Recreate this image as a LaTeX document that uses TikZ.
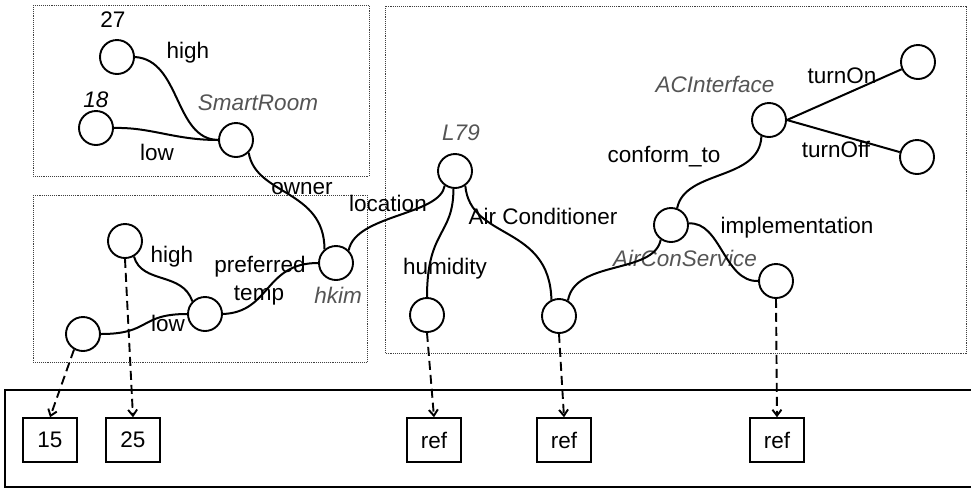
\documentclass[tikz,border=0pt]{standalone}
\usepackage{fontspec}
\setmainfont{Liberation Sans}
\usetikzlibrary{arrows.meta}
\definecolor{lblgray}{gray}{0.33}
\begin{document}
\begin{tikzpicture}[x=1pt,y=-1pt,
  nd/.style={circle,draw,line width=1.9pt,minimum size=34pt,inner sep=0pt},
  lbl/.style={font=\fontsize{22.5}{26}\selectfont,inner sep=0pt,text height=16pt,text depth=4.5pt},
  ilbl/.style={lbl,font=\fontsize{22.5}{26}\selectfont\itshape,text=lblgray},
  conn/.style={line width=2pt},
  valbox/.style={draw,line width=1.5pt,minimum width=54pt,minimum height=44pt,inner sep=0pt,font=\fontsize{22.5}{26}\selectfont},
  dotbox/.style={densely dotted,line width=0.9pt,draw=black!75},
  deparrow/.style={dash pattern=on 9pt off 5pt,line width=1.9pt,-{Straight Barb[length=6pt,width=9pt]}}
]
\useasboundingbox (0,0) rectangle (971,491);

% frames
\draw[dotbox] (33,5) rectangle (369,176);
\draw[dotbox] (33,195) rectangle (367,362);
\draw[dotbox] (385,6) rectangle (966,353);
\draw[line width=1.5pt] (971,390) -- (5,390) -- (5,487) -- (971,487);

% nodes
\node[nd] (c27) at (117,57) {};
\node[nd] (c18) at (96,128) {};
\node[nd] (smart) at (236,140) {};
\node[nd] (ctop) at (125,241) {};
\node[nd] (cmid) at (205,314) {};
\node[nd] (cbl) at (83,334) {};
\node[nd] (hkim) at (336,263) {};
\node[nd] (l79) at (455,171) {};
\node[nd] (hum) at (427,315) {};
\node[nd] (ac) at (559,316) {};
\node[nd] (acs) at (671,225) {};
\node[nd] (impl) at (776,281) {};
\node[nd] (aci) at (769,120) {};
\node[nd] (ton) at (918,62) {};
\node[nd] (toff) at (917,157) {};

% value boxes
\node[valbox] (v15) at (50,440) {15};
\node[valbox] (v25) at (133,440) {25};
\node[valbox] (r1) at (434,440) {ref};
\node[valbox] (r2) at (564,440) {ref};
\node[valbox] (r3) at (777,440) {ref};

% labels
\node[lbl] (t27) at (113,22) {27};
\node[lbl] (thigh1) at (188,53) {high};
\node[lbl,font=\fontsize{22.5}{26}\selectfont\itshape] (t18) at (96,102) {18};
\node[ilbl] (tsmart) at (258,105) {SmartRoom};
\node[lbl] (tlow1) at (157,155) {low};
\node[lbl] (towner) at (302,189) {owner};
\node[lbl] (thigh2) at (172,257) {high};
\node[lbl] (tlow2) at (168,326) {low};
\node[lbl] (tpref) at (260,267) {preferred};
\node[lbl] (ttemp) at (259,295) {temp};
\node[ilbl] (thkim) at (338,298) {hkim};
\node[lbl] (tloc) at (388,206) {location};
\node[ilbl] (tl79) at (461,135) {L79};
\node[lbl] (tair) at (543,219) {Air Conditioner};
\node[lbl] (thum) at (445,269) {humidity};
\node[ilbl] (tacs) at (685,261) {AirConService};
\node[lbl] (timpl) at (797,228) {implementation};
\node[lbl] (tconf) at (664,157) {conform\_to};
\node[ilbl] (taci) at (715,87) {ACInterface};
\node[lbl] (tonl) at (842,78) {turnOn};
\node[lbl] (toffl) at (836,152) {turnOff};

% connectors
\draw[conn] (c27.east) .. controls +(46,3) and +(-44,-1) .. (smart.west);
\draw[conn] (c18.east) .. controls +(37,-1) and +(-44,0) .. (smart.west);
\draw[conn] (smart.-45) .. controls +(7,43) and +(0,-60) .. (hkim.130);
\draw[conn] (ctop.-60) .. controls +(8,28) and +(-10,-30) .. (cmid.135);
\draw[conn] (cmid.west) .. controls +(-48,0) and +(50,0) .. (cbl.east);
\draw[conn] (cmid.east) .. controls +(48,-2) and +(-54,0) .. (hkim.west);
\draw[conn] (hkim.45) .. controls +(7,-36) and +(-5,30) .. (l79.235);
\draw[conn] (l79.265) .. controls +(0,47) and +(0,-68) .. (hum.north);
\draw[conn] (l79.-55) .. controls +(5,55) and +(-2,-76) .. (ac.115);
\draw[conn] (ac.60) .. controls +(7,-41) and +(-7,35) .. (acs.235);
\draw[conn] (acs.70) .. controls +(8,-39) and +(-2,45) .. (aci.245);
\draw[conn] (acs.5) .. controls +(32,-2) and +(-34,1) .. (impl.west);
\draw[conn] (aci.east) -- (ton);
\draw[conn] (aci.east) -- (toff);

% dependency arrows
\draw[deparrow] (cbl.240) -- (v15.north);
\draw[deparrow] (ctop.south) -- (v25.north);
\draw[deparrow] (hum.south) -- (r1.north);
\draw[deparrow] (ac.south) -- (r2.north);
\draw[deparrow] (impl.south) -- (r3.north);
\end{tikzpicture}
\end{document}
